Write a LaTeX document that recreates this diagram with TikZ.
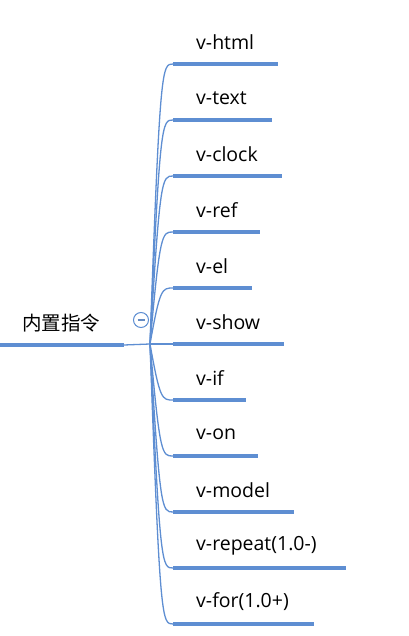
\documentclass[tikz,border=0pt]{standalone}
\usepackage{fontspec}
\setmainfont{Open Sans}
\newfontfamily\cjk{Noto Sans CJK SC}
\usetikzlibrary{positioning}
\definecolor{branchblue}{RGB}{94,142,210}

\begin{document}
\begin{tikzpicture}[x=1pt, y=-1pt,
		bar/.style={branchblue, line width=3.6pt},
		twig/.style={branchblue, line width=1.3pt},
		leaf/.style={anchor=west, inner sep=0pt, font=\fontsize{19.5}{22}\selectfont}]
		\useasboundingbox (0,0) rectangle (408,636);
		% root
		\coordinate (rootL) at (0,345);
		\coordinate (rootR) at (124,345);
		\coordinate (hub) at (150,344);
		\node (root) at (61,323) {\cjk\fontsize{19.5}{22}\selectfont 内置指令};
		\draw [bar] (rootL)--(rootR);
		\draw [twig] (rootR)--(hub);
		\node (fold) [circle, draw=branchblue, line width=1pt, minimum size=15pt, inner sep=0pt] at (141,320) {};
		\draw [branchblue!80!gray, line width=1.4pt] ([xshift=-3.5pt]fold.center)--([xshift=3.5pt]fold.center);
		% children
		\foreach \i/\lab/\xe in {0/v-html/278, 1/v-text/272, 2/v-clock/282, 3/v-ref/260,
				4/v-el/252, 5/v-show/284, 6/v-if/246, 7/v-on/258, 8/v-model/294,
				9/v-repeat(1.0-)/346, 10/v-for(1.0+)/314}{
			\coordinate (s\i) at (173,64+56*\i);
			\coordinate (e\i) at (\xe,64+56*\i);
			\node (c\i) [leaf] at (196,42+56*\i) {\lab};
			\draw [bar] (s\i)--(e\i);
			\draw [twig, line cap=round] (hub) .. controls (160,64+56*\i) and (162,64+56*\i) .. (s\i);
		}
	\end{tikzpicture}
\end{document}
